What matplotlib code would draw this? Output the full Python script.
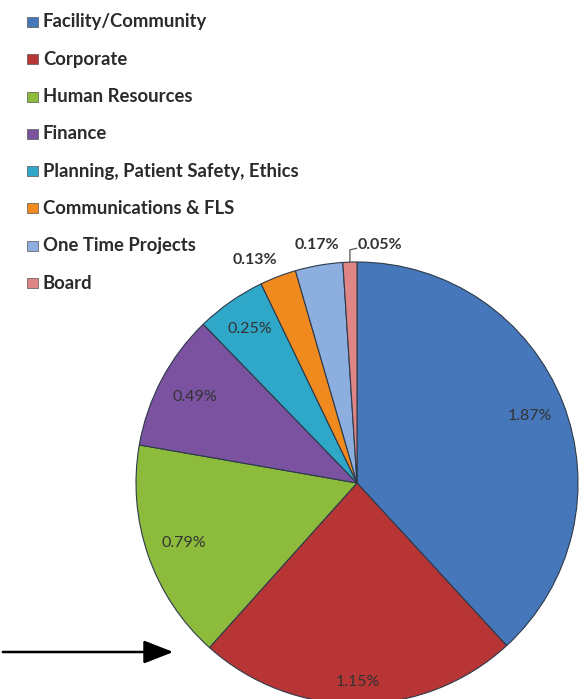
import numpy as np
import matplotlib
matplotlib.use("Agg")
import matplotlib.pyplot as plt
from matplotlib.patches import Rectangle

categories = ["Facility/Community", "Corporate", "Human Resources", "Finance",
              "Planning, Patient Safety, Ethics", "Communications & FLS",
              "One Time Projects", "Board"]
values = [1.87, 1.15, 0.79, 0.49, 0.25, 0.13, 0.17, 0.05]
value_labels = ["1.87%", "1.15%", "0.79%", "0.49%", "0.25%", "0.13%", "0.17%", "0.05%"]
colors = ["#4677BA", "#B83535", "#8DBB3C", "#7A52A0", "#2FA7C8", "#F08A1E", "#8DAFE0", "#E08585"]

W, H = 588, 699
fig = plt.figure(figsize=(W / 100, H / 100), dpi=100)
fig.patch.set_facecolor("white")

# pie axes: centre (357,483) px, radius 221 px
cx, cy, R = 357, 483, 221
ax = fig.add_axes([(cx - R) / W, (H - cy - R) / H, 2 * R / W, 2 * R / H])
ax.set_xlim(-1, 1)
ax.set_ylim(-1, 1)
ax.set_aspect("equal")
ax.axis("off")

wedges, _ = ax.pie(values, colors=colors, startangle=90, counterclock=False, radius=1,
                   wedgeprops=dict(edgecolor="#2d3a4a", linewidth=0.8))
ax.set_xlim(-1, 1)
ax.set_ylim(-1, 1)

txt_color = "#333333"
font = "Lato"
inside_r = [0.84, 0.90, 0.83, 0.83, 0.85]
for i, w in enumerate(wedges):
    mid = np.deg2rad((w.theta1 + w.theta2) / 2)
    if i < 5:
        r = inside_r[i]
        ax.text(r * np.cos(mid), r * np.sin(mid), value_labels[i], ha="center", va="center",
                fontsize=11.5, color=txt_color, family=font)

# outside labels for small slices
ang = np.deg2rad(114.6)
ax.text(1.11 * np.cos(ang), 1.11 * np.sin(ang), value_labels[5], ha="center", va="center",
        fontsize=11.5, color=txt_color, family=font, fontweight="bold")
ang = np.deg2rad(99.5)
ax.text(1.09 * np.cos(ang), 1.09 * np.sin(ang), value_labels[6], ha="center", va="center",
        fontsize=11.5, color=txt_color, family=font, fontweight="bold")
# Board label with leader
wb = wedges[7]
mid = np.deg2rad((wb.theta1 + wb.theta2) / 2)
x0, y0 = np.cos(mid) * 1.0, np.sin(mid) * 1.0
ax.plot([x0, x0, x0 + 0.03], [y0, 1.055, 1.062], color="#555555", lw=0.9, clip_on=False)
ax.text(x0 + 0.035, 1.075, value_labels[7], ha="left", va="center",
        fontsize=11.5, color=txt_color, family=font, fontweight="bold")

# legend drawn manually
y_first, dy = 22, 37.3
for i, (name, c) in enumerate(zip(categories, colors)):
    yc = y_first + i * dy
    fig.patches.append(Rectangle((27 / W, 1 - (yc + 5) / H), 11 / W, 10 / H,
                                 transform=fig.transFigure, facecolor=c,
                                 edgecolor="#555555", linewidth=0.5))
    fig.text(43 / W, 1 - yc / H, name, ha="left", va="center", fontsize=13.3,
             color="#2a2a2a", family=font, fontweight="bold")

# arrow pointing at the pie
fig.add_artist(matplotlib.patches.FancyArrowPatch(
    (0 / W, 1 - 652 / H), (176 / W, 1 - 652 / H), transform=fig.transFigure,
    arrowstyle="-|>,head_length=1.4,head_width=0.55", mutation_scale=13,
    color="black", lw=1.8))

fig.savefig("out.png", dpi=100, facecolor="white")
